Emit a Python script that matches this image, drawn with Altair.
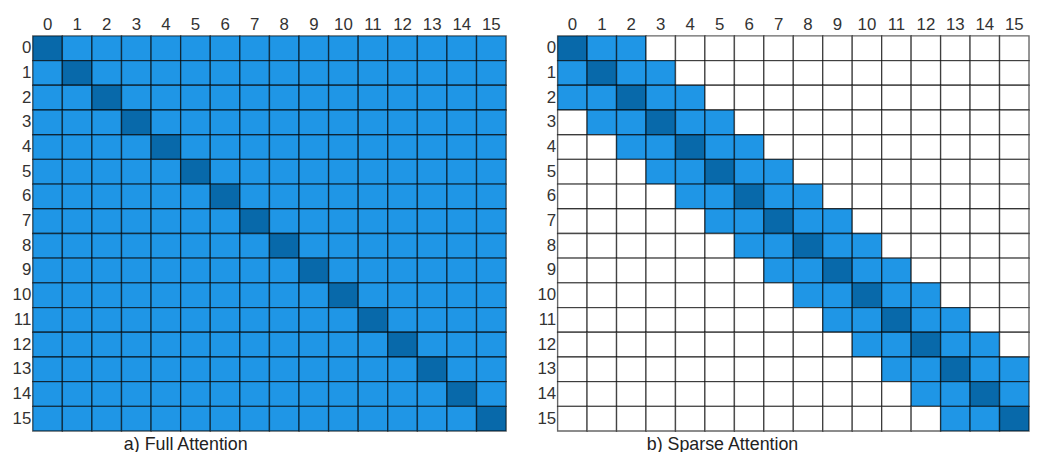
import altair as alt
import pandas as pd

labels = [str(i) for i in range(16)]

# D = diagonal (dark), B = attended (blue), . = not attended (white)
full_rows = [
    "DBBBBBBBBBBBBBBB",
    "BDBBBBBBBBBBBBBB",
    "BBDBBBBBBBBBBBBB",
    "BBBDBBBBBBBBBBBB",
    "BBBBDBBBBBBBBBBB",
    "BBBBBDBBBBBBBBBB",
    "BBBBBBDBBBBBBBBB",
    "BBBBBBBDBBBBBBBB",
    "BBBBBBBBDBBBBBBB",
    "BBBBBBBBBDBBBBBB",
    "BBBBBBBBBBDBBBBB",
    "BBBBBBBBBBBDBBBB",
    "BBBBBBBBBBBBDBBB",
    "BBBBBBBBBBBBBDBB",
    "BBBBBBBBBBBBBBDB",
    "BBBBBBBBBBBBBBBD",
]
sparse_rows = [
    "DBB.............",
    "BDBB............",
    "BBDBB...........",
    ".BBDBB..........",
    "..BBDBB.........",
    "...BBDBB........",
    "....BBDBB.......",
    ".....BBDBB......",
    "......BBDBB.....",
    ".......BBDBB....",
    "........BBDBB...",
    ".........BBDBB..",
    "..........BBDBB.",
    "...........BBDBB",
    "............BBDB",
    ".............BBD",
]

state_names = ["D", "B", "."]
state_colors = ["#0869AA", "#1F96E6", "#FFFFFF"]


def to_df(rows):
    recs = []
    for i, r in enumerate(rows):
        for j, c in enumerate(r):
            recs.append({"row": labels[i], "col": labels[j], "state": c})
    return pd.DataFrame(recs)


H = 399


def panel(rows, caption, dx, width):
    return (
        alt.Chart(to_df(rows))
        .mark_rect(stroke="#000000", strokeOpacity=0.6, strokeWidth=1.4)
        .encode(
            x=alt.X("col:N", sort=labels, title=None,
                    axis=alt.Axis(orient="top", labelAngle=0, ticks=False, domain=False,
                                  labelPadding=2)),
            y=alt.Y("row:N", sort=labels, title=None,
                    axis=alt.Axis(ticks=False, domain=False, labelPadding=2)),
            color=alt.Color("state:N", scale=alt.Scale(domain=state_names, range=state_colors),
                            legend=None),
        )
        .properties(
            width=width, height=H,
            title=alt.TitleParams(caption, orient="bottom", anchor="start", frame="group",
                                  dx=dx, offset=4, fontSize=18, font="Liberation Sans",
                                  fontWeight="normal", color="#222222"),
        )
    )


chart = (
    alt.hconcat(panel(full_rows, "a) Full Attention", 92, 478),
                panel(sparse_rows, "b) Sparse Attention", 90, 476), spacing=30)
    .properties(padding={"left": 4, "top": 6, "right": 0, "bottom": 0})
    .configure_view(stroke=None)
    .configure_scale(bandPaddingInner=0, bandPaddingOuter=0)
    .configure_axis(labelFont="Liberation Sans", labelFontSize=17, labelColor="#333333",
                    grid=False)
)

chart.save("out.html", embed_options={"renderer": "svg", "actions": False})
